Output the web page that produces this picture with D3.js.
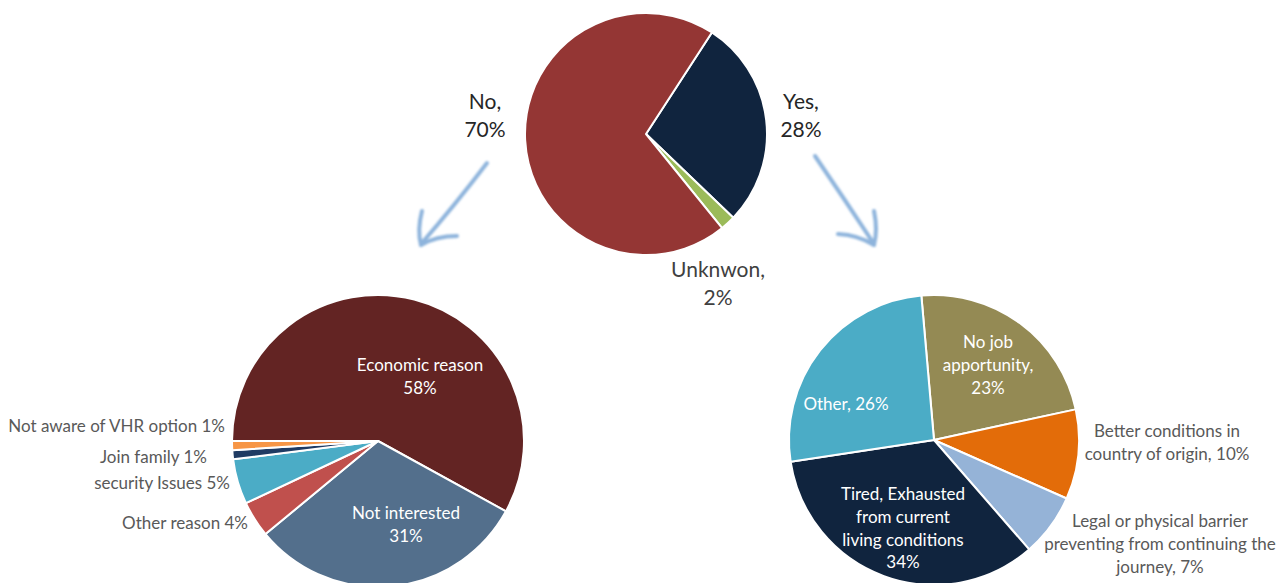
<!DOCTYPE html>
<html>
<head>
    <meta charset="utf-8">
    <!-- D3 -->
    <script src="https://d3js.org/d3.v7.min.js"></script>
    <style>
        body { margin: 0; background: #fff; }
        svg text { font-family: Lato, "Open Sans", sans-serif; }
    </style>
</head>
<body>
    <div id="chart">
        <svg width="1279" height="583"></svg>
    </div>
    <script>
        // top pie: did they want to go back?
        var topNames = ["Yes", "Unknwon", "No"]
        var topValues = [28, 2, 70]

        // left pie: reasons for "No"
        var leftNames = ["Economic reason", "Not interested", "Other reason", "security Issues", "Join family", "Not aware of VHR option"]
        var leftValues = [58, 31, 4, 5, 1, 1]

        // right pie: reasons for "Yes"
        var rightNames = ["No job apportunity", "Better conditions in country of origin", "Legal or physical barrier", "Tired, Exhausted from current living conditions", "Other"]
        var rightValues = [23, 10, 7, 34, 26]

        var svg = d3.select("#chart svg")

        // draws one pie; start is in degrees clockwise from 12 o'clock
        function drawPie(cx, cy, r, start, names, values, colors) {
            var pie = d3.pie()
                .sort(null)
                .startAngle(start * Math.PI / 180)
                .endAngle((start + 360) * Math.PI / 180)
            var arc = d3.arc().innerRadius(0).outerRadius(r)
            var g = svg.append("g").attr("transform", "translate(" + cx + "," + cy + ")")
            g.selectAll("path")
                .data(pie(values))
                .enter()
                .append("path")
                .attr("d", arc)
                .attr("fill", function(d, i) { return colors[i] })
                .attr("stroke", "#fff")
                .attr("stroke-width", 2)
                .attr("stroke-linejoin", "round")
            return g
        }

        // labels: lines of text, dx/dy from pie centre
        function addLabel(g, dx, dy, lines, color, size, anchor) {
            var t = g.append("text")
                .attr("x", dx)
                .attr("y", dy)
                .attr("fill", color)
                .attr("font-size", size)
                .attr("text-anchor", anchor || "middle")
            lines.forEach(function(l, i) {
                t.append("tspan")
                    .attr("x", dx)
                    .attr("dy", i == 0 ? 0 : 22.8)
                    .text(l)
            })
        }

        var gTop = drawPie(646, 134, 121, 33, topNames, topValues, ["#10243e", "#9bbb59", "#943634"])
        var gLeft = drawPie(378, 441, 146, 270, leftNames, leftValues, ["#632423", "#536f8c", "#c0504d", "#4bacc6", "#1f3b63", "#f79646"])
        var gRight = drawPie(934, 440, 145, -5, rightNames, rightValues, ["#948a54", "#e36c09", "#95b3d7", "#10243e", "#4bacc6"])

        // top labels
        var fs = 17
        gTop.selectAll("text").remove()
        addLabel(gTop, -161, -25, ["No,"], "#262626", 21)
        addLabel(gTop, -161, 3, ["70%"], "#262626", 21)
        addLabel(gTop, 155, -25, ["Yes,"], "#262626", 21)
        addLabel(gTop, 155, 3, ["28%"], "#262626", 21)
        addLabel(gTop, 72, 143, ["Unknwon,"], "#404040", 21)
        addLabel(gTop, 72, 171, ["2%"], "#404040", 21)

        // left labels
        addLabel(gLeft, 42, -70, ["Economic reason", "58%"], "#fff", fs)
        addLabel(gLeft, 28, 78, ["Not interested", "31%"], "#fff", fs)
        addLabel(gLeft, -153, -9, ["Not aware of VHR option 1%"], "#595959", fs, "end")
        addLabel(gLeft, -171, 22, ["Join family 1%"], "#595959", fs, "end")
        addLabel(gLeft, -148, 48, ["security Issues 5%"], "#595959", fs, "end")
        addLabel(gLeft, -130, 88, ["Other reason 4%"], "#595959", fs, "end")

        // right labels
        addLabel(gRight, 54, -92, ["No job", "apportunity,", "23%"], "#fff", fs)
        addLabel(gRight, -88, -30, ["Other, 26%"], "#fff", fs)
        addLabel(gRight, -31, 60, ["Tired, Exhausted", "from current", "living conditions", "34%"], "#fff", fs)
        addLabel(gRight, 233, -3, ["Better conditions in", "country of origin, 10%"], "#595959", fs)
        addLabel(gRight, 226, 87, ["Legal or physical barrier", "preventing from continuing the", "journey, 7%"], "#595959", fs)

        // sketchy arrows pointing from the top pie down to the two reason pies
        var defs = svg.append("defs")
        defs.append("filter").attr("id", "soft")
            .append("feGaussianBlur").attr("stdDeviation", 0.8)
        var arrows = [
            ["M487,163 Q455,205 421,244", "M422,211 Q417,230 421,245", "M457,236 Q436,236 421,245"],
            ["M815,156 Q845,200 874,244", "M874,211 Q878,230 874,245", "M838,234 Q858,235 874,245"]
        ]
        arrows.forEach(function(a) {
            svg.append("g")
                .attr("filter", "url(#soft)")
                .selectAll("path")
                .data(a)
                .enter()
                .append("path")
                .attr("d", function(d) { return d })
                .attr("fill", "none")
                .attr("stroke", "#8eb4dc")
                .attr("stroke-width", 4)
                .attr("stroke-linecap", "round")
        })
    </script>
</body>
</html>
